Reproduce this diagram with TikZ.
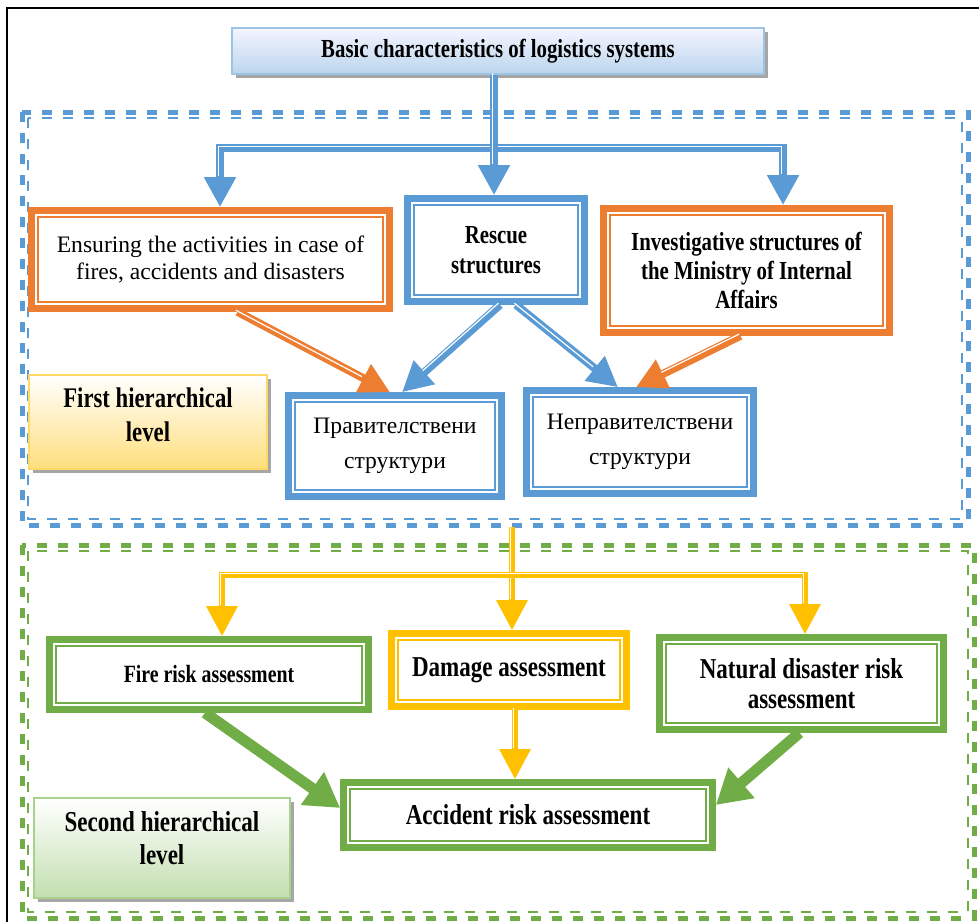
\documentclass[tikz,border=0pt]{standalone}
\usepackage{fontspec}
\setmainfont{Liberation Serif}
\newfontfamily\condserif[FakeStretch=0.8]{Liberation Serif}
\usepackage{tikz}
\usetikzlibrary{calc,arrows.meta,shadows}
\definecolor{cBlue}{HTML}{5B9BD5}
\definecolor{cOrange}{HTML}{ED7D31}
\definecolor{cGreen}{HTML}{70AD47}
\definecolor{cYellow}{HTML}{FFC000}
\definecolor{titleLine}{HTML}{9DC3E6}
\definecolor{lvlOneLine}{HTML}{FFD966}
\definecolor{lvlTwoLine}{HTML}{A9D18E}

\begin{document}
\begin{tikzpicture}[x=0.5pt,y=-0.5pt,
  box/.style={draw=#1, line width=3.3pt, fill=white, align=center, inner sep=1pt},
  bf/.style 2 args={font=\condserif\bfseries\fontsize{#1}{#2}\selectfont},
  rm/.style 2 args={font=\fontsize{#1}{#2}\selectfont},
  lvl/.style={draw=#1, line width=0.8pt, align=center, inner sep=1pt,
    drop shadow={shadow xshift=2pt, shadow yshift=-2pt, fill=black!35, opacity=1}},
  link/.style={draw=#1, line width=4pt, -{Triangle[length=15pt,width=15pt]},
    postaction={draw=white, line width=0.6pt, -, shorten >=15pt,
      transform canvas={shift={(-0.8pt,0.8pt)}}}},
  fat/.style={draw=#1, line width=5.5pt, -{Triangle[length=17pt,width=19pt]}},
  frame/.style={draw=#1, line width=2.5pt, dash pattern=on 5pt off 5.5pt},
  thinframe/.style={draw=#1, line width=0.7pt, dash pattern=on 5pt off 5.5pt}]
  \useasboundingbox (0,0) rectangle (979,922);
  \draw[line width=0.7pt] (7,922) -- (7,8) -- (979,8);

  \draw[frame=cBlue] (22,112) rectangle (968,525);
  \draw[thinframe=cBlue] (28,118) rectangle (962,519);
  \draw[frame=cGreen] (22,545) rectangle (974,918);
  \draw[thinframe=cGreen] (28,551) rectangle (968,912);

  \node[lvl=titleLine, top color=blue!4, bottom color=titleLine!70, bf={13}{15},
    minimum width=266pt, minimum height=23pt] (title) at (498,51)
    {Basic characteristics  of logistics systems};

  \node[box=cOrange, rm={11.8}{13.5}, minimum width=179pt, minimum height=49pt] (ensure) at (210.5,259.5)
    {Ensuring the activities in case of\\fires, accidents and disasters};
  \node[box=cBlue, bf={13}{15}, minimum width=88.5pt, minimum height=51.5pt] (rescue) at (496,250)
    {Rescue\\structures};
  \node[box=cOrange, bf={13}{14.5}, minimum width=143pt, minimum height=62pt] (invest) at (746.5,270.5)
    {Investigative structures of\\the Ministry of Internal\\Affairs};
  \node[box=cBlue, rm={11.8}{17.5}, minimum width=106.5pt, minimum height=50.5pt] (gov) at (395,446)
    {Правителствени\\структури};
  \node[box=cBlue, rm={11.8}{17.5}, minimum width=113.5pt, minimum height=51.5pt] (nongov) at (640,442)
    {Неправителствени\\структури};
  \node[lvl=lvlOneLine, top color=white, bottom color=lvlOneLine!85, bf={14.2}{17},
    minimum width=119pt, minimum height=47pt] (lvlone) at (148,422) {First hierarchical\\level\\[-10pt]\mbox{}};

  \node[box=cGreen, bf={12.4}{15}, minimum width=159.5pt, minimum height=35pt] (fire) at (209,674.5)
    {Fire risk assessment};
  \node[box=cYellow, bf={14.4}{15}, minimum width=117.5pt, minimum height=36.5pt] (damage) at (509,670)
    {Damage assessment};
  \node[box=cGreen, bf={14.4}{15}, minimum width=142pt, minimum height=46pt] (natural) at (801.5,683.5)
    {Natural disaster risk\\assessment};
  \node[box=cGreen, bf={14.4}{15}, minimum width=184.5pt, minimum height=32.5pt] (accident) at (528,815)
    {Accident risk assessment};
  \node[lvl=lvlTwoLine, top color=white, bottom color=lvlTwoLine!70, bf={14.4}{16.5},
    minimum width=128pt, minimum height=50pt] (lvltwo) at (162,848) {Second hierarchical\\level\\[-6.5pt]\mbox{}};

  \foreach \n/\c in {ensure/cOrange,rescue/cBlue,invest/cOrange,gov/cBlue,nongov/cBlue,fire/cGreen,damage/cYellow,natural/cGreen,accident/cGreen}{
    \draw[draw=\c, line width=0.9pt] ($(\n.north west)+(9.6,9.6)$) rectangle ($(\n.south east)+(-9.6,-9.6)$);
  }

  \coordinate (hubone) at (494,148);
  \coordinate (leftone) at (220,148);
  \coordinate (rightone) at (783,148);
  \draw[link=cBlue] (hubone) -- (leftone) -- (leftone |- ensure.north);
  \draw[link=cBlue] (hubone) -- (rightone) -- (rightone |- invest.north);
  \draw[link=cBlue] (title.south -| hubone) -- (hubone |- rescue.north);

  \draw[link=cOrange] ($(ensure.south)+(27,0)$) -- ($(gov.north)+(-5,0)$);
  \draw[link=cBlue] ($(rescue.south)+(4,0)$) -- ($(gov.north)+(7,0)$);
  \draw[link=cBlue] ($(rescue.south)+(20,0)$) -- ($(nongov.north)+(-22,0)$);
  \draw[link=cOrange] ($(invest.south)+(-6,0)$) -- ($(nongov.north)+(-4,0)$);

  \coordinate (topin) at (512,527);
  \coordinate (hubtwo) at (512,575);
  \coordinate (lefttwo) at (222,575);
  \coordinate (righttwo) at (805,575);
  \path ($(damage.south)+(6,0)$) coordinate (dmg);
  \draw[link=cYellow, line width=3pt] (topin) -- (hubtwo |- damage.north);
  \draw[link=cYellow, line width=3pt] (hubtwo) -- (lefttwo) -- (lefttwo |- fire.north);
  \draw[link=cYellow, line width=3pt] (hubtwo) -- (righttwo) -- (righttwo |- natural.north);
  \draw[link=cYellow, line width=3pt] (dmg) -- (dmg |- accident.north);

  \draw[fat=cGreen] ($(fire.south)+(-4,0)$) -- ($(accident.west)+(0,-7)$);
  \draw[fat=cGreen] ($(natural.south)+(-2,0)$) -- ($(accident.east)+(0,-10)$);
\end{tikzpicture}
\end{document}
